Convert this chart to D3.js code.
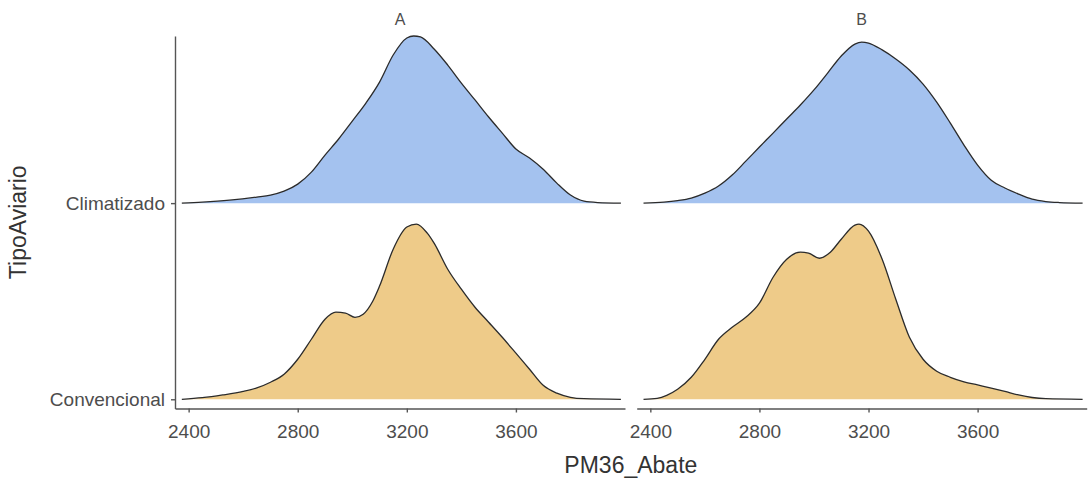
<!DOCTYPE html>
<html>
<head>
<meta charset="utf-8">
<script src="https://cdn.jsdelivr.net/npm/d3@7"></script>
<style>
  html, body { margin: 0; padding: 0; background: #ffffff; }
  svg { display: block; font-family: "Liberation Sans", Arial, sans-serif; }
</style>
</head>
<body>
<svg id="chart" width="1089" height="482"></svg>
<script>
// ---------------- data ----------------
const panels = ["A", "B"];
const categories = ["Convencional", "Climatizado"];   // bottom to top
const xTicks = [2400, 2800, 3200, 3600];
const xTitle = "PM36_Abate";
const yTitle = "TipoAviario";

// density heights (in units of ridge spacing): [PM36_Abate, height]
const climA = [[2375,0],[2450,0.005],[2550,0.015],[2650,0.031],[2700,0.041],[2750,0.061],[2800,0.097],[2850,0.158],[2900,0.245],[2950,0.327],[3000,0.418],[3050,0.510],[3100,0.617],[3150,0.755],[3200,0.842],[3225,0.852],[3250,0.847],[3300,0.786],[3350,0.704],[3400,0.612],[3450,0.526],[3500,0.439],[3550,0.357],[3600,0.276],[3650,0.230],[3700,0.173],[3750,0.102],[3800,0.041],[3850,0.010],[3900,0.003],[3985,0]];
const convA = [[2375,0],[2450,0.008],[2525,0.022],[2600,0.040],[2650,0.058],[2700,0.087],[2750,0.128],[2800,0.204],[2850,0.306],[2900,0.408],[2940,0.444],[2975,0.439],[3010,0.418],[3040,0.434],[3075,0.500],[3100,0.577],[3150,0.765],[3200,0.878],[3235,0.893],[3275,0.847],[3300,0.796],[3350,0.663],[3400,0.561],[3450,0.469],[3500,0.393],[3550,0.316],[3600,0.235],[3650,0.153],[3700,0.071],[3750,0.031],[3800,0.010],[3850,0.003],[3985,0]];
const climB = [[2375,0],[2450,0.005],[2500,0.013],[2550,0.026],[2600,0.051],[2650,0.087],[2700,0.143],[2750,0.214],[2800,0.286],[2850,0.357],[2900,0.429],[2950,0.500],[3000,0.577],[3050,0.663],[3100,0.750],[3150,0.811],[3175,0.821],[3200,0.816],[3250,0.781],[3300,0.735],[3350,0.679],[3400,0.607],[3450,0.515],[3500,0.408],[3550,0.296],[3600,0.194],[3650,0.117],[3700,0.077],[3750,0.046],[3800,0.020],[3850,0.008],[3900,0.003],[3985,0]];
const convB = [[2375,0],[2425,0.005],[2460,0.020],[2500,0.051],[2550,0.112],[2600,0.204],[2650,0.306],[2700,0.367],[2750,0.418],[2800,0.490],[2850,0.622],[2900,0.714],[2950,0.750],[2980,0.745],[3020,0.719],[3060,0.750],[3100,0.816],[3150,0.888],[3165,0.893],[3200,0.857],[3250,0.714],[3300,0.510],[3350,0.316],[3400,0.204],[3450,0.143],[3500,0.112],[3550,0.089],[3600,0.073],[3650,0.057],[3700,0.040],[3750,0.022],[3800,0.009],[3850,0.003],[3985,0]];

const seriesByPanel = {
  A: { Climatizado: climA, Convencional: convA },
  B: { Climatizado: climB, Convencional: convB }
};
const fills = { Climatizado: "#a4c2ef", Convencional: "#eecb89" };

// ---------------- layout ----------------
const svg = d3.select("#chart");
const panelLeft = { A: 175, B: 636.7 };
const panelW = 450;
const plotTop = 36, plotBottom = 408.5;
const textColor = "#4d4d4d";
const axisColor = "#555555";

const x = d3.scaleLinear().domain([2350, 4000]).range([0, panelW]);
const yMax = 2 + d3.max(Object.values(seriesByPanel).flatMap(p => p.Climatizado.map(d => d[1])));
const y = d3.scaleLinear().domain([0.953, yMax]).range([plotBottom, plotTop]);
const catPos = { Convencional: 1, Climatizado: 2 };

panels.forEach(p => {
  const g = svg.append("g").attr("transform", `translate(${panelLeft[p]},0)`);

  ["Climatizado", "Convencional"].forEach(cat => {
    const data = seriesByPanel[p][cat];
    const base = catPos[cat];
    const area = d3.area()
      .x(d => x(d[0]))
      .y0(y(base))
      .y1(d => y(base + d[1]))
      .curve(d3.curveMonotoneX);
    const line = d3.line()
      .x(d => x(d[0]))
      .y(d => y(base + d[1]))
      .curve(d3.curveMonotoneX);
    g.append("path").datum(data)
      .attr("d", area)
      .attr("fill", fills[cat]);
    g.append("path").datum(data)
      .attr("d", line)
      .attr("fill", "none")
      .attr("stroke", "#2b2b2b")
      .attr("stroke-width", 1.3);
  });

  // x axis
  const xa = g.append("g")
    .attr("transform", `translate(0,${plotBottom})`)
    .call(d3.axisBottom(x).tickValues(xTicks).tickSizeInner(4).tickSizeOuter(0).tickPadding(12).tickFormat(d3.format("d")));
  xa.select(".domain").attr("stroke", axisColor).attr("stroke-width", 1.4);
  xa.selectAll(".tick line").attr("stroke", axisColor).attr("stroke-width", 1.4);
  xa.selectAll(".tick text").attr("fill", textColor).attr("font-size", 19)
    .attr("font-family", "Liberation Sans, Arial, sans-serif");

  // strip label
  g.append("text")
    .attr("x", panelW / 2).attr("y", 25)
    .attr("text-anchor", "middle")
    .attr("fill", textColor).attr("font-size", 16)
    .text(p);

  if (p === "A") {
    const ya = g.append("g")
      .call(d3.axisLeft(y).tickValues([1, 2]).tickSizeInner(4).tickSizeOuter(0).tickPadding(6)
        .tickFormat(v => categories[v - 1]));
    ya.select(".domain").attr("stroke", axisColor).attr("stroke-width", 1.4);
    ya.selectAll(".tick line").attr("stroke", axisColor).attr("stroke-width", 1.4);
    ya.selectAll(".tick text").attr("fill", textColor).attr("font-size", 19)
      .attr("font-family", "Liberation Sans, Arial, sans-serif");
  }
});

// axis titles
svg.append("text")
  .attr("x", (panelLeft.A + panelLeft.B + panelW) / 2).attr("y", 473)
  .attr("text-anchor", "middle")
  .attr("fill", "#333333").attr("font-size", 23)
  .text(xTitle);

svg.append("text")
  .attr("transform", `translate(26,${(plotTop + plotBottom) / 2}) rotate(-90)`)
  .attr("text-anchor", "middle")
  .attr("fill", "#333333").attr("font-size", 23)
  .text(yTitle);
</script>
</body>
</html>
